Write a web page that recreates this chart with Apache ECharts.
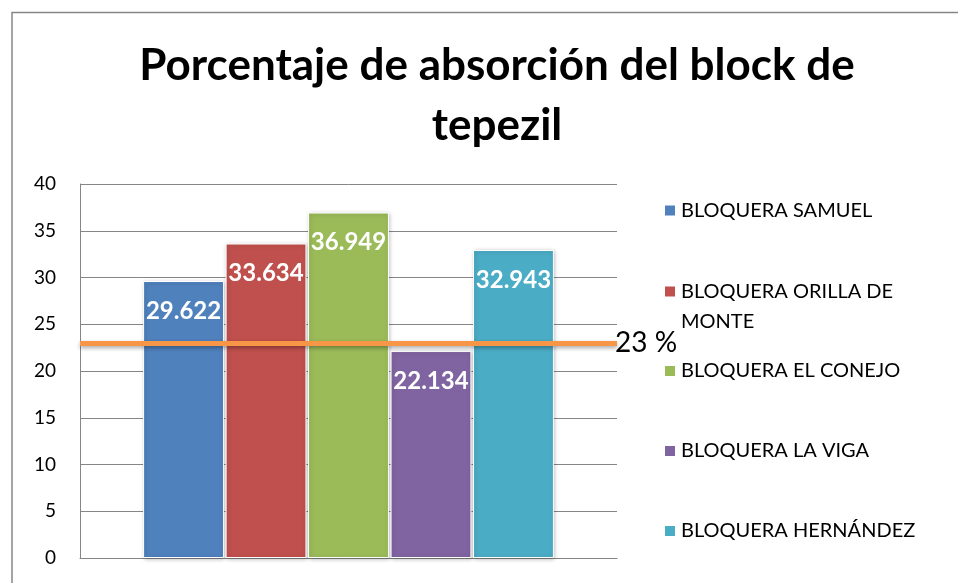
<!DOCTYPE html>
<html><head><meta charset="utf-8">
<script src="https://cdn.jsdelivr.net/npm/echarts@6/dist/echarts.min.js"></script>
<style>html,body{margin:0;padding:0;background:#fff}#c{width:958px;height:583px}</style>
</head><body><div id="c"></div>
<script>
const categories = [''];
const seriesNames = ['BLOQUERA SAMUEL','BLOQUERA ORILLA DE MONTE','BLOQUERA EL CONEJO','BLOQUERA LA VIGA','BLOQUERA HERNÁNDEZ'];
const seriesValues = [29.622, 33.634, 36.949, 22.134, 32.943];
const seriesColors = ['#4F81BD','#C0504D','#9BBB59','#8064A2','#4BACC6'];
const referenceLine = [23];
const yTicks = [0,5,10,15,20,25,30,35,40];
const legendCenters = [210.5, 291.5, 371, 451, 531];

const chart = echarts.init(document.getElementById('c'));
const font = 'Lato, "Open Sans", sans-serif';
const LH = 30;

const series = seriesNames.map((n,i)=>({
  name:n, type:'bar', data:[seriesValues[i]],
  barGap:'2%', barCategoryGap:'23.5%',
  itemStyle:{color:seriesColors[i], borderColor:'#fff', borderWidth:1, shadowColor:'rgba(0,0,0,0.25)', shadowBlur:4, shadowOffsetX:1, shadowOffsetY:1},
  label:{show:true, position:'insideTop', distance:18, color:'#fff', fontWeight:'bold', fontSize:24, fontFamily:font, formatter:p=>p.value.toFixed(3)},
  z:2
}));
series[0].markLine = {
  silent:true, symbol:'none', z:10,
  lineStyle:{color:'#F79646', width:5, type:'solid', shadowColor:'rgba(0,0,0,0.35)', shadowBlur:4, shadowOffsetY:2},
  label:{show:true, position:'end', distance:-2, color:'#000', fontSize:28, fontFamily:font, formatter:p=>p.value+' %'},
  data:[{yAxis:referenceLine[0]}]
};

const isTwoLine = n => n==='BLOQUERA ORILLA DE MONTE';
const legends = seriesNames.map((n,i)=>({
  data:[n], left:663, top: legendCenters[i] - (isTwoLine(n) ? 1.5*LH : 0.5*LH), padding:0, orient:'vertical',
  icon:'rect', itemWidth:12, itemHeight:12, itemGap:0,
  formatter: name => isTwoLine(name) ? '\nBLOQUERA ORILLA DE\nMONTE' : name,
  textStyle:{color:'#000', fontSize:20, fontFamily:font, lineHeight:LH},
  selectedMode:false
}));

chart.setOption({
  animation:false,
  title:{text:'Porcentaje de absorción del block de\ntepezil', left:492, top:31, textAlign:'center',
    textStyle:{fontSize:44, fontWeight:'bold', color:'#000', fontFamily:font, lineHeight:60}},
  graphic:[{type:'polyline', shape:{points:[[12,600],[12,12.5],[970,12.5]]}, style:{stroke:'#868686', lineWidth:1.5, fill:null}}],
  legend:legends,
  grid:{left:80, top:184, width:537, height:374},
  xAxis:{type:'category', data:categories, axisTick:{show:false}, axisLabel:{show:false},
    axisLine:{lineStyle:{color:'#868686'}}},
  yAxis:{type:'value', min:yTicks[0], max:yTicks[yTicks.length-1], interval:5,
    axisLine:{show:true, lineStyle:{color:'#868686'}}, axisTick:{show:false},
    axisLabel:{color:'#000', fontSize:19, fontFamily:font, margin:24},
    splitLine:{lineStyle:{color:'#868686', width:1}}},
  series:series
});
</script></body></html>
